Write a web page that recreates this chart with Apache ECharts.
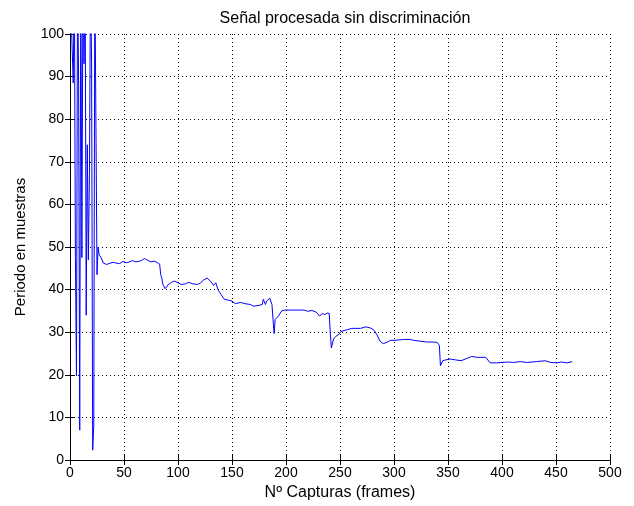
<!DOCTYPE html>
<html>
<head>
<meta charset="utf-8">
<script src="https://cdn.jsdelivr.net/npm/echarts@6/dist/echarts.min.js"></script>
<style>
  html, body { margin: 0; padding: 0; background: #fff; }
  #chart { width: 634px; height: 506px; }
</style>
</head>
<body>
<div id="chart"></div>
<script>
const frames = [
  1, 2, 3, 4, 5, 6, 7, 8, 9, 10, 11, 12, 13, 14, 15, 16, 17, 18, 19, 20,
  21, 22, 23, 24, 25, 26, 27, 29, 31, 34, 37, 40, 43, 46, 49, 52, 55, 58,
  61, 63, 66, 69, 71, 75, 78, 81, 83, 84, 85, 86, 88, 89, 91, 94, 97, 100,
  103, 106, 110, 113, 118, 121, 124, 127, 130, 133, 135, 137, 140, 143, 147, 150,
  153, 158, 162, 167, 170, 175, 178, 179, 181, 182, 185, 187, 188, 189, 190, 193,
  196, 199, 204, 210, 217, 220, 224, 228, 231, 234, 236, 238, 240, 241, 242, 244,
  246, 249, 251, 257, 261, 269, 274, 278, 281, 284, 287, 290, 294, 297, 301, 309,
  315, 318, 324, 330, 336, 340, 342, 343, 345, 348, 352, 357, 362, 368, 372, 377,
  385, 386, 389, 395, 405, 411, 417, 423, 432, 440, 445, 451, 455, 460, 465
];
const periodo = [
  105, 96.5, 88.5, 115, 47.5, 19.7, 115, 88, 7, 115, 47.5, 115, 93, 115, 34, 74, 47, 67, 115, 93,
  2.3, 8, 115, 115, 43.5, 50, 48.2, 47.4, 46.2, 45.9, 46.2, 46.4, 46.2, 46.1, 46.6, 46.3, 46.5, 46.8,
  46.5, 46.6, 46.8, 47.3, 47.0, 46.5, 46.7, 46.3, 46.0, 43.5, 42.7, 41.2, 40.2, 40.0, 41.2, 41.7, 42.0, 41.6,
  41.2, 41.3, 41.7, 41.4, 41.2, 41.6, 42.3, 42.7, 42.0, 41.0, 41.6, 40.0, 38.8, 37.7, 37.5, 37.3,
  36.7, 37.0, 36.7, 36.5, 36.1, 36.3, 36.5, 37.7, 36.5, 37.3, 38.0, 36.5, 33.0, 29.7, 33.0, 33.8,
  35.0, 35.2, 35.2, 35.2, 35.2, 34.9, 35.1, 34.7, 33.8, 34.4, 34.1, 34.5, 34.4, 29.8, 26.3, 28.4,
  29.0, 29.5, 30.2, 30.6, 30.9, 30.9, 31.25, 31.0, 30.6, 29.5, 27.9, 27.3, 27.7, 28.1, 28.1, 28.3,
  28.3, 28.1, 27.9, 27.7, 27.7, 27.6, 26.9, 22.1, 23.3, 23.5, 23.7, 23.5, 23.3, 23.9, 24.3, 24.1,
  24.1, 23.8, 22.8, 22.8, 23.0, 22.9, 23.1, 22.9, 23.1, 23.3, 22.9, 22.8, 23.0, 22.8, 23.1
];

const font = 'Liberation Sans, Arial, sans-serif';
const chart = echarts.init(document.getElementById('chart'));

const baseX = {
  type: 'value', min: 0, max: 500, interval: 50,
  axisLine: { show: true, lineStyle: { color: '#000', width: 1 } },
  axisTick: { show: true, inside: true, length: 5, lineStyle: { color: '#000' } }
};
const baseY = {
  type: 'value', min: 0, max: 100, interval: 10,
  axisLine: { show: true, lineStyle: { color: '#000', width: 1 } },
  axisTick: { show: true, inside: true, length: 5, lineStyle: { color: '#000' } }
};
// puntos de la rejilla estilo matlab
const gridDots = { show: true, lineStyle: { color: '#000', width: 1, type: [1, 3] } };

const option = {
  backgroundColor: '#fff',
  animation: false,
  title: {
    text: 'Señal procesada sin discriminación',
    left: 340, top: 6, textAlign: 'center',
    textStyle: { fontFamily: font, fontSize: 16, fontWeight: 'normal', color: '#000' }
  },
  grid: { left: 70, right: 24, top: 34, bottom: 45 },
  xAxis: [
    Object.assign({}, baseX, {
      position: 'bottom',
      name: 'Nº Capturas (frames)', nameLocation: 'middle', nameGap: 25,
      nameTextStyle: { fontFamily: font, fontSize: 16, color: '#000' },
      axisLabel: { fontFamily: font, fontSize: 14, color: '#000', margin: 6 },
      splitLine: gridDots
    }),
    Object.assign({}, baseX, {
      position: 'top', axisLabel: { show: false }, splitLine: { show: false }
    })
  ],
  yAxis: [
    Object.assign({}, baseY, {
      position: 'left',
      name: 'Periodo en muestras', nameLocation: 'middle', nameGap: 42,
      nameTextStyle: { fontFamily: font, fontSize: 15, color: '#000' },
      axisLabel: { fontFamily: font, fontSize: 14, color: '#000', margin: 6 },
      splitLine: gridDots
    }),
    Object.assign({}, baseY, {
      position: 'right', axisLabel: { show: false }, splitLine: { show: false }
    })
  ],
  series: [
    {
      type: 'line',
      xAxisIndex: 0, yAxisIndex: 0,
      data: frames.map((f, i) => [f, periodo[i]]),
      showSymbol: false, symbol: 'none',
      clip: true,
      lineStyle: { color: '#0000ff', width: 1 }
    }
  ]
};
chart.setOption(option);
</script>
</body>
</html>
